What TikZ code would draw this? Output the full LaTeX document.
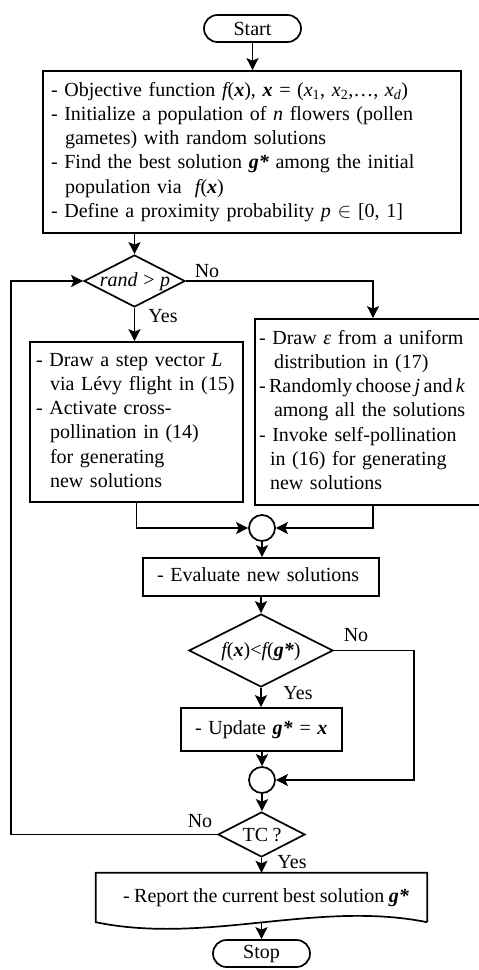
\documentclass[tikz,border=0pt]{standalone}
\usepackage{fontspec}
\setmainfont[WordSpace=0.9]{Liberation Serif}
\usetikzlibrary{shapes.geometric,shapes.misc,arrows.meta}
\newcommand{\boxlines}[1]{\begin{tabular}{@{}l@{}}#1\end{tabular}}
\newcommand{\fx}{{\itshape f}(\textbf{\textit{x}})}
\newcommand{\gs}{\textbf{\textit{g*}}}
\newcommand{\bx}{\textbf{\textit{x}}}
\begin{document}
\begin{tikzpicture}[x=1pt,y=-1pt,
  every node/.style={font=\fontsize{20}{24.2}\selectfont},
  line/.style={line width=1.7pt},
  arr/.style={line width=1.7pt,-{Stealth[length=12pt,width=12pt,inset=2.5pt]}},
  term/.style={rounded rectangle, draw, line width=1.7pt, minimum width=97pt, minimum height=27pt, inner sep=0pt},
  procbox/.style={draw, line width=1.7pt, align=left},
  dec/.style={diamond, draw, line width=1.7pt, inner sep=0pt},
  junc/.style={circle, draw, line width=1.7pt, minimum size=26pt, inner sep=0pt},
  lbl/.style={inner sep=0pt}
]
\useasboundingbox (0,0) rectangle (479,970);

\node[term] (start) at (252.5,28.5) {Start};

\node[procbox, text width=402pt, inner xsep=8pt, minimum height=162pt] (init) at (252,152)
{\boxlines{- Objective function \fx, \bx{} = ({\itshape x}\textsubscript{1}, {\itshape x}\textsubscript{2},…, {\itshape x\textsubscript{d}})\\
- Initialize a population of {\itshape n} flowers (pollen\\
\hspace*{14pt}gametes) with random solutions\\
- Find the best solution \gs{} among the initial\\
\hspace*{14pt}population via \ \fx\\
- Define a proximity probability {\itshape p} $\in$ [0, 1]}};

\node[dec, minimum width=101pt, minimum height=52pt] (d1) at (134.5,281) {};
\node[lbl] (d1t) at (135,282) {\textit{rand > p}};

\node[procbox, text width=201pt, inner xsep=6pt, minimum height=160pt] (lbox) at (136.5,422)
{\boxlines{- Draw a step vector {\itshape L}\\
\hspace*{14pt}via Lévy flight in (15)\\
- Activate cross-\\
\hspace*{14pt}pollination in (14)\\
\hspace*{14pt}for generating\\
\hspace*{14pt}new solutions}};

\node[procbox, text width=228pt, inner xsep=4pt, minimum height=186pt] (rbox) at (373,412)
{\boxlines{- Draw {\itshape ε} from a uniform\\
\hspace*{15pt}distribution in (17)\\
{\spaceskip=0.17em - Randomly choose {\itshape j} and {\itshape k}}\\
\hspace*{15pt}among all the solutions\\
- Invoke self-pollination\\
\hspace*{11pt}in (16) for generating\\
\hspace*{11pt}new solutions}};

\node[junc] (c1) at (262,528) {};

\node[procbox, text width=208pt, inner xsep=14pt, minimum height=38pt] (eval) at (261,577)
{\boxlines{- Evaluate new solutions}};

\node[dec, minimum width=144pt, minimum height=73pt] (d2) at (261,650.5) {};
\node[lbl] (d2t) at (261,652) {{\itshape f}(\textbf{\textit{x}})<{\itshape f}(\gs)};

\node[procbox, text width=133pt, inner xsep=14pt, minimum height=43pt] (upd) at (261.5,729.5)
{\boxlines{- Update \gs{} = \bx}};

\node[junc] (c2) at (262,780) {};

\node[dec, minimum width=87pt, minimum height=45pt] (tc) at (261.5,834.5) {};
\node[lbl] (tct) at (262,835) {TC ?};

\node[minimum width=331pt, minimum height=49pt, inner sep=0pt] (rep) at (261.5,897.5)
{\hspace*{9pt}- Report the current best solution \gs};
\draw[line] (rep.south east) -- (rep.north east) -- (rep.north west) -- (rep.south west)
  .. controls (206,945) and (317,900) .. (rep.south east);

\node[term] (stop) at (261.5,953.5) {Stop};

% connectors
\draw[arr] (start.south) -- (start.south |- init.north);
\draw[arr] (d1.north |- init.south) -- (d1.north);
\draw[arr] (d1.east) -| (rbox.north);
\draw[arr] (d1.south) -- (d1.south |- lbox.north);
\draw[arr] (lbox.south) |- (c1.west);
\draw[arr] (rbox.south) |- (c1.east);
\draw[arr] (c1.south) -- (c1.south |- eval.north);
\draw[arr] (d2.north |- eval.south) -- (d2.north);
\draw[arr] (d2.south) -- (d2.south |- upd.north);
\draw[arr] (d2.east) -- ++(80,0) |- (c2.east);
\draw[arr] (c2.north |- upd.south) -- (c2.north);
\draw[arr] (c2.south) -- (c2.south |- tc.north);
\draw[arr] (tc.west) -- ++(-206,0) |- (d1.west);
\draw[arr] (tc.south) -- (tc.south |- rep.north);
\draw[arr] (stop.north |- rep.south) -- (stop.north);

% labels
\node[lbl] (no1) at (207,271) {No};
\node[lbl] (yes1) at (163,316) {Yes};
\node[lbl] (no2) at (356,635) {No};
\node[lbl] (yes2) at (298,693) {Yes};
\node[lbl] (no3) at (200,821) {No};
\node[lbl] (yes3) at (292,862) {Yes};
\end{tikzpicture}
\end{document}
